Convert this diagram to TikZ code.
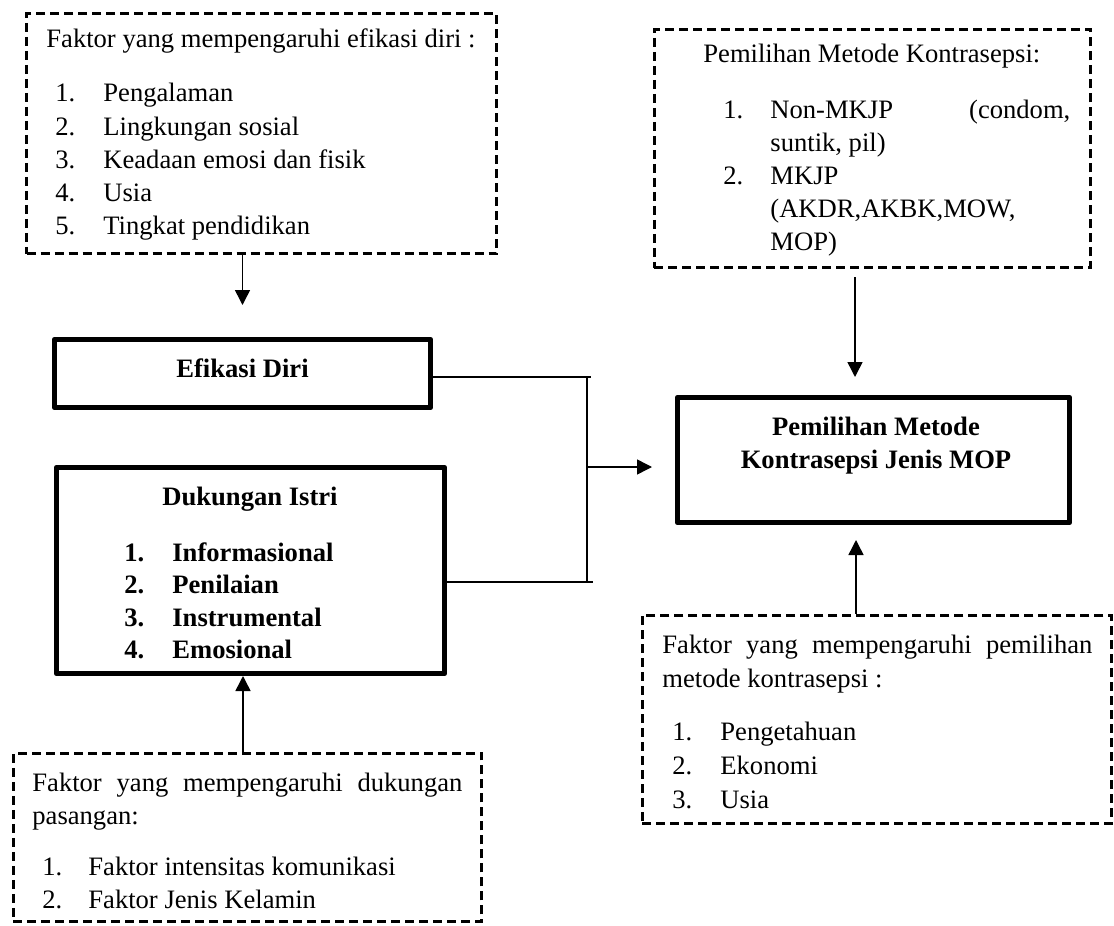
\documentclass[tikz,border=0pt]{standalone}
\usepackage{fontspec}
\setmainfont{Liberation Serif}
\usetikzlibrary{arrows.meta}
\newcommand\diagfs{\fontsize{13.3pt}{16.5pt}\selectfont}
\begin{document}
\begin{tikzpicture}[x=0.5pt,y=-0.5pt,
  font=\diagfs,
  thickbox/.style={draw, line width=2.3pt, line join=round, inner sep=0pt},
  dashbox/.style={draw, line width=1.35pt, dash pattern=on 4.5pt off 2.5pt, inner sep=0pt},
  txt/.style={anchor=base west, inner sep=0pt, font=\diagfs},
  btxt/.style={anchor=base west, inner sep=0pt, font=\diagfs\bfseries},
  ctxt/.style={anchor=base, inner sep=0pt, font=\diagfs\bfseries},
  conn/.style={line width=0.65pt},
  arr/.style={line width=0.75pt, -{Triangle[length=7.5pt,width=7.5pt]}}]
\useasboundingbox (0,0) rectangle (1114,926);

% ---- boxes ----
\node[dashbox, minimum width=235pt, minimum height=120.25pt] (b1) at (261.5,133.5) {};
\node[dashbox, minimum width=218.25pt, minimum height=119.25pt] (b2) at (872.5,148.5) {};
\node[dashbox, minimum width=234.6pt, minimum height=104.25pt] (b3) at (877,719.5) {};
\node[dashbox, minimum width=234.25pt, minimum height=84.25pt] (b4) at (247.5,837.5) {};
\node[thickbox, minimum width=188.2pt, minimum height=34.2pt] (ef) at (242.5,373.5) {};
\node[thickbox, minimum width=194.2pt, minimum height=103.2pt] (dk) at (250.5,570.5) {};
\node[thickbox, minimum width=196.2pt, minimum height=62.7pt] (mop) at (873.5,460) {};

% ---- top-left box text ----
\node[txt] (b1t) at (46,47) {Faktor yang mempengaruhi efikasi diri :};
\foreach \n/\y/\t in {1/101/Pengalaman, 2/135/Lingkungan sosial, 3/168/Keadaan emosi dan fisik, 4/201/Usia, 5/234/Tingkat pendidikan}{
  \node[txt] (b1n\n) at (55,\y) {\n.};
  \node[txt] (b1i\n) at (103,\y) {\t};
}

% ---- top-right box text ----
\node[txt] (b2t) at (703,62) {Pemilihan Metode Kontrasepsi:};
\node[txt] (b2n1) at (723,118) {1.};
\node[txt] (b2i1a) at (770,118) {\makebox[150pt][s]{Non-MKJP\hfill(condom,}};
\node[txt] (b2i1b) at (770,151) {suntik, pil)};
\node[txt] (b2n2) at (723,184) {2.};
\node[txt] (b2i2a) at (770,184) {MKJP};
\node[txt] (b2i2b) at (770,217) {(AKDR,AKBK,MOW,};
\node[txt] (b2i2c) at (770,250) {MOP)};

% ---- bottom-right box text ----
\node[txt] (b3t1) at (662,653) {\makebox[215pt][s]{Faktor\hfill yang\hfill mempengaruhi\hfill pemilihan}};
\node[txt] (b3t2) at (662,687) {metode kontrasepsi :};
\foreach \n/\y/\t in {1/740/Pengetahuan, 2/774/Ekonomi, 3/808/Usia}{
  \node[txt] (b3n\n) at (672,\y) {\n.};
  \node[txt] (b3i\n) at (720,\y) {\t};
}

% ---- bottom-left box text ----
\node[txt] (b4t1) at (32,791) {\makebox[215pt][s]{Faktor\hfill yang\hfill mempengaruhi\hfill dukungan}};
\node[txt] (b4t2) at (32,824) {pasangan:};
\foreach \n/\y/\t in {1/875/Faktor intensitas komunikasi, 2/908/Faktor Jenis Kelamin}{
  \node[txt] (b4n\n) at (42,\y) {\n.};
  \node[txt] (b4i\n) at (88,\y) {\t};
}

% ---- bold box text ----
\node[ctxt] (eft) at (242.5,377) {Efikasi Diri};
\node[ctxt] (dkt) at (250,505) {Dukungan Istri};
\foreach \n/\y/\t in {1/561/Informasional, 2/593/Penilaian, 3/626/Instrumental, 4/658/Emosional}{
  \node[btxt] (dkn\n) at (124,\y) {\n.};
  \node[btxt] (dki\n) at (172,\y) {\t};
}
\node[ctxt] (mopt1) at (876,435) {Pemilihan Metode};
\node[ctxt] (mopt2) at (876,468) {Kontrasepsi Jenis MOP};

% ---- connectors ----
\coordinate (j1) at (591,377);
\coordinate (j2) at (593,582);
\coordinate (jt) at (587,377);
\coordinate (jb) at (587,582);
\coordinate (jm) at (587,467);
\draw[conn] (ef.east |- j1) -- (j1);
\draw[conn] (dk.east |- j2) -- (j2);
\draw[conn] (jt) -- (jb);
\draw[arr, shorten >=11.5pt] (jm) -- (mop.west |- jm);

\coordinate (a2) at (855,0);
\coordinate (a3) at (856,0);
\coordinate (a4) at (243,0);
\draw[arr, shorten <=4pt, shorten >=9pt] (b2.south -| a2) -- (mop.north -| a2);
\draw[arr, shorten >=7.5pt] (b3.north -| a3) -- (mop.south -| a3);
\draw[arr, shorten >=16pt] (ef.north |- b1.south) -- (ef.north);
\draw[arr] (b4.north -| a4) -- (dk.south -| a4);
\end{tikzpicture}
\end{document}
